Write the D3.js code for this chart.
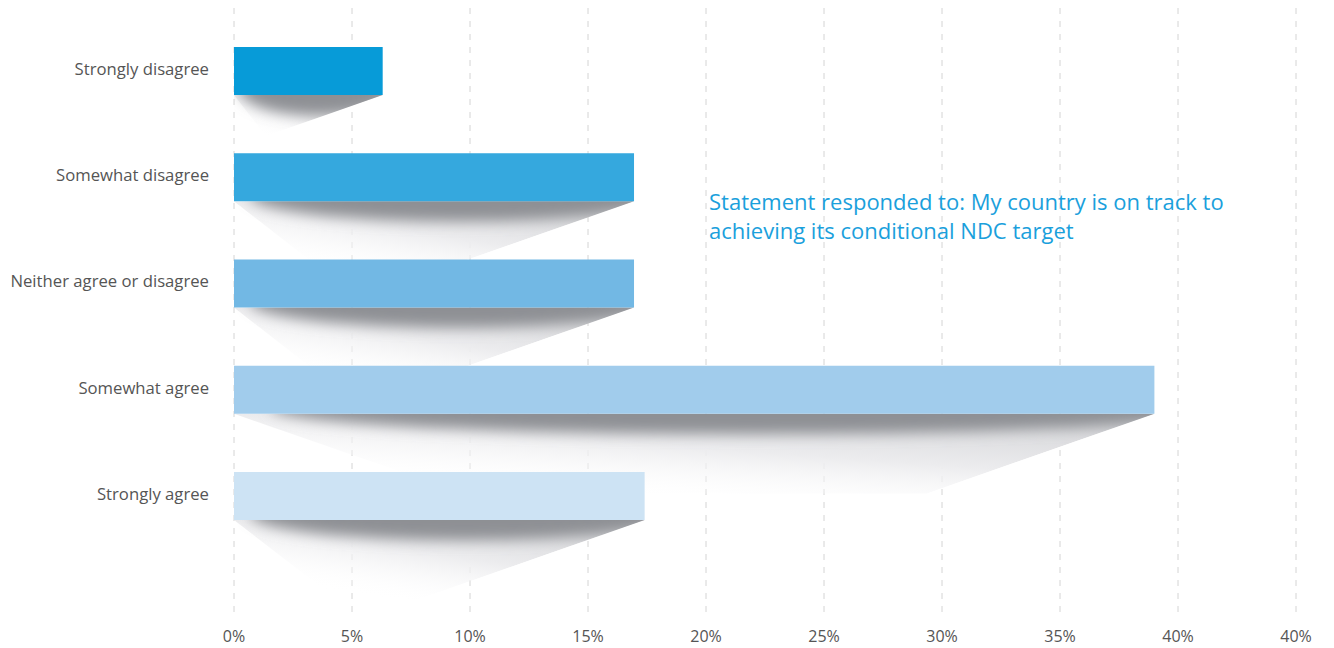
<!DOCTYPE html>
<meta charset="utf-8">
<head>
  <title>NDC target survey</title>
  <script src="https://d3js.org/d3.v7.min.js"></script>
  <style>
    body { margin: 0; background: #fff; }
    text { font-family: "Open Sans", "Noto Sans", sans-serif; }
  </style>
</head>
<body>
<div id="display"></div>
<script>

var categories = ["Strongly disagree", "Somewhat disagree", "Neither agree or disagree", "Somewhat agree", "Strongly agree"];
var values = [6.3, 16.95, 16.95, 39.0, 17.4];
var barColors = ["#079bd8", "#35a8de", "#72b8e4", "#a1ccec", "#cde3f4"];
var tickValues = [0, 5, 10, 15, 20, 25, 30, 35, 40, 45];
var tickLabels = ["0%", "5%", "10%", "15%", "20%", "25%", "30%", "35%", "40%", "40%"];
var note = ["Statement responded to: My country is on track to", "achieving its conditional NDC target"];

var width = 1334, height = 648;

var svg = d3.select("#display")
  .append("svg")
    .attr("width", width)
    .attr("height", height);

var x = d3.scaleLinear()
  .domain([0, 45])
  .range([234, 1296]);

var y = d3.scalePoint()
  .domain(categories)
  .range([71, 496]);

var barH = 48;

var defs = svg.append("defs");
defs.append("filter")
    .attr("id", "blur")
    .attr("x", "-20%").attr("y", "-100%")
    .attr("width", "140%").attr("height", "300%")
  .append("feGaussianBlur")
    .attr("stdDeviation", 7);

var grad = defs.append("linearGradient")
    .attr("id", "fade")
    .attr("x1", 1).attr("y1", 0)
    .attr("x2", 0.25).attr("y2", 0.9);
grad.append("stop").attr("offset", 0).attr("stop-color", "#cfd0d3");
grad.append("stop").attr("offset", 0.55).attr("stop-color", "#ececee");
grad.append("stop").attr("offset", 1).attr("stop-color", "#ffffff").attr("stop-opacity", 0);

// grid
svg.append("g")
  .selectAll("line")
  .data(tickValues)
  .join("line")
    .attr("x1", function(d) { return x(d); })
    .attr("x2", function(d) { return x(d); })
    .attr("y1", 8)
    .attr("y2", 615)
    .attr("stroke", "#d4d4d4")
    .attr("stroke-dasharray", "6,7");

// axis labels
svg.append("g")
  .selectAll("text")
  .data(tickValues)
  .join("text")
    .attr("x", function(d) { return x(d); })
    .attr("y", 642)
    .attr("text-anchor", "middle")
    .attr("font-size", 16)
    .attr("fill", "#555")
    .text(function(d, i) { return tickLabels[i]; });

// shadows
var data = categories.map(function(c, i) { return {cat: c, val: values[i], color: barColors[i]}; });

var shadows = svg.append("g");
data.forEach(function(d, i) {
  var bottom = y(d.cat) + barH / 2;
  var x0 = x(0), x1 = x(d.val);
  var len = x1 - x0;
  var dy = Math.min(80, 30 + len * 0.12);
  var dx = dy * 2.85;
  var shape = d3.line()([
    [x0, bottom], [x1, bottom], [x1 - dx, bottom + dy], [x0 + len * 0.25, bottom + dy]
  ]);
  var clipId = "clip" + i;
  defs.append("clipPath").attr("id", clipId)
    .append("path")
      .attr("d", d3.line()([
        [x0, bottom], [x1, bottom], [x1 - dx, bottom + dy], [x0, bottom + dy]
      ]));
  var g = shadows.append("g").attr("clip-path", "url(#" + clipId + ")");
  g.append("path")
    .attr("d", shape)
    .attr("fill", "url(#fade)");
  g.append("ellipse")
    .attr("cx", x0 + len * 0.56)
    .attr("cy", bottom - 6)
    .attr("rx", len * 0.52)
    .attr("ry", 26)
    .attr("fill", "#8e9094")
    .attr("filter", "url(#blur)");
});

// bars
svg.append("g")
  .selectAll("rect")
  .data(data)
  .join("rect")
    .attr("x", x(0))
    .attr("y", function(d) { return y(d.cat) - barH / 2; })
    .attr("width", function(d) { return x(d.val) - x(0); })
    .attr("height", barH)
    .attr("fill", function(d) { return d.color; });

// category labels
svg.append("g")
  .selectAll("text")
  .data(categories)
  .join("text")
    .attr("x", 209)
    .attr("y", function(d) { return y(d) - 2; })
    .attr("dy", "0.35em")
    .attr("text-anchor", "end")
    .attr("font-size", 16.7)
    .attr("fill", "#555")
    .text(function(d) { return d; });

// note
svg.append("g")
  .selectAll("text")
  .data(note)
  .join("text")
    .attr("x", 709)
    .attr("y", function(d, i) { return 210 + i * 29; })
    .attr("font-size", 22)
    .attr("fill", "#1aa0dc")
    .text(function(d) { return d; });

</script>
</body>
